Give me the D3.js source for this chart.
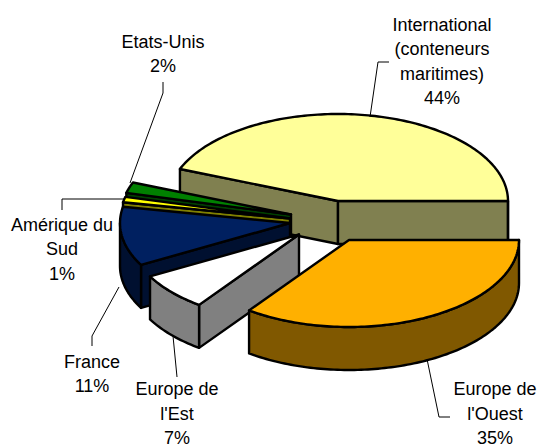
<!DOCTYPE html>
<html>
<head>
<meta charset="utf-8">
<script src="https://cdn.jsdelivr.net/npm/d3@7"></script>
<style>
html,body{margin:0;padding:0;background:#fff}
svg{display:block}
text{font-family:"Liberation Sans",Arial,sans-serif;font-size:18px;fill:#000;text-anchor:middle}
</style>
</head>
<body>
<svg id="chart" width="540" height="448"></svg>
<script>
const categories = ["International (conteneurs maritimes)", "Europe de l'Ouest", "Europe de l'Est", "France", "Amérique du Sud", "Etats-Unis"];
const values = [44, 35, 7, 11, 1, 2];
const labelLines = [
  ["International", "(conteneurs", "maritimes)", "44%"],
  ["Europe de", "l'Ouest", "35%"],
  ["Europe de", "l'Est", "7%"],
  ["France", "11%"],
  ["Amérique du", "Sud", "1%"],
  ["Etats-Unis", "2%"]
];
const topColors = ["#FFFF99", "#FFB000", "#FFFFFF", "#002060", "#FFFF00", "#008000"];
const sideColors = ["#808050", "#805800", "#808080", "#001030", "#808000", "#004000"];

// Layout of the tilted, exploded pie
const rx = 170, ry = 87, depth = 43;
const apex = [[338,201],[349,240],[299,234.5],[290,223],[290,218.5],[291,214.5]];
const labelPos = [[442,31],[495,395.4],[177,395.4],[92,368],[62,231],[163,48]];
const leaders = [
  [[389,62],[378,62],[370,117]],
  [[450,417],[439,417],[427,359]],
  [[177,377],[173,336]],
  [[92,346],[92,336],[119,287]],
  [[62,210],[62,199],[124,199]],
  [[163,82],[163,93],[130,183]]
];
const drawOrder = [0, 5, 4, 3, 2, 1];
const lineH = 24.4;
const startAngle = Math.PI / 2 - values[0] / d3.sum(values) * 2 * Math.PI;

const svg = d3.select("#chart");
const arcs = d3.pie().sort(null).startAngle(startAngle).endAngle(startAngle + 2 * Math.PI)(values);
const line = d3.line();
const sx = d3.scaleLinear().domain([-1, 1]).range([-rx, rx]);
const sy = d3.scaleLinear().domain([-1, 1]).range([ry, -ry]);
const pt = (i, a, z) => [apex[i][0] + sx(Math.sin(a)), apex[i][1] + sy(Math.cos(a)) + (z || 0)];
const sample = (a, b) => {
  const n = Math.max(2, Math.ceil(Math.abs(b - a) / 0.02));
  return d3.range(n + 1).map(k => a + (b - a) * k / n);
};
const paint = (sel) => sel.attr("stroke", "#000").attr("stroke-width", 2.4).attr("stroke-linejoin", "round");

drawOrder.forEach(i => {
  const a = arcs[i].startAngle, b = arcs[i].endAngle;
  const g = svg.append("g").attr("class", "slice");
  const ap = apex[i];
  const radialWall = (t) => {
    const p = pt(i, t);
    g.append("path").attr("d", line([ap, p, [p[0], p[1] + depth], [ap[0], ap[1] + depth]]) + "Z")
      .attr("fill", sideColors[i]).call(paint);
  };
  // Inner walls facing the viewer
  if (Math.sin(a) < 0) radialWall(a);
  if (Math.sin(b) > 0) radialWall(b);
  // Outer rim: only the part between east and west that faces the viewer
  const lo = Math.max(a, Math.PI / 2), hi = Math.min(b, 3 * Math.PI / 2);
  if (hi > lo) {
    const ang = sample(lo, hi);
    const pts = ang.map(t => pt(i, t)).concat(ang.slice().reverse().map(t => pt(i, t, depth)));
    g.append("path").attr("d", line(pts) + "Z").attr("fill", sideColors[i]).call(paint);
  }
  // Top face
  const top = [ap].concat(sample(a, b).map(t => pt(i, t)));
  g.append("path").attr("d", line(top) + "Z").attr("fill", topColors[i]).call(paint);
});

// Leader lines
svg.append("g").selectAll("path").data(leaders).join("path")
  .attr("d", d => line(d)).attr("fill", "none").attr("stroke", "#000").attr("stroke-width", 1);

// Labels
labelLines.forEach((lines, i) => {
  const t = svg.append("text").attr("class", "label").attr("aria-label", categories[i]);
  lines.forEach((s, k) => {
    t.append("tspan").attr("x", labelPos[i][0]).attr("y", labelPos[i][1] + k * lineH).text(s);
  });
});
</script>
</body>
</html>
